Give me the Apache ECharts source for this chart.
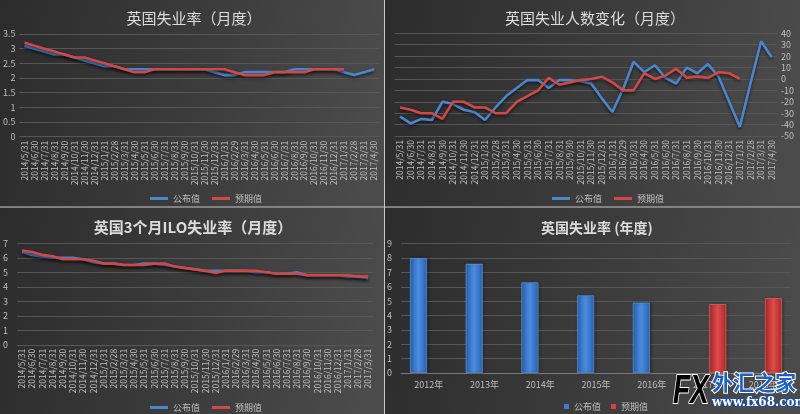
<!DOCTYPE html>
<html>
<head>
<meta charset="utf-8">
<script src="https://cdn.jsdelivr.net/npm/echarts@6/dist/echarts.min.js"></script>
<style>
html,body{margin:0;padding:0;background:#3a3a3a;}
#c{width:800px;height:414px;}
</style>
</head>
<body>
<div id="c"></div>
<script>
// ---- Data ----
const monthLabels = ['2014/5/31','2014/6/30','2014/7/31','2014/8/31','2014/9/30','2014/10/31','2014/11/30','2014/12/31',
  '2015/1/31','2015/2/28','2015/3/31','2015/4/30','2015/5/31','2015/6/30','2015/7/31','2015/8/31','2015/9/30','2015/10/31','2015/11/30','2015/12/31',
  '2016/1/31','2016/2/29','2016/3/31','2016/4/30','2016/5/31','2016/6/30','2016/7/31','2016/8/31','2016/9/30','2016/10/31','2016/11/30','2016/12/31',
  '2017/1/31','2017/2/28','2017/3/31','2017/4/30'];
const iloMonthLabels = monthLabels.slice(0, 35);

// 英国失业率（月度）
const rateActual   = [3.1,3.0,2.9,2.8,2.8,2.7,2.6,2.5,2.4,2.4,2.3,2.3,2.3,2.3,2.3,2.3,2.3,2.3,2.3,2.2,2.1,2.1,2.2,2.2,2.2,2.2,2.2,2.3,2.3,2.3,2.3,2.3,2.2,2.1,2.2,2.3];
const rateForecast = [3.2,3.1,3.0,2.9,2.8,2.7,2.7,2.6,2.5,2.4,2.3,2.2,2.2,2.3,2.3,2.3,2.3,2.3,2.3,2.3,2.3,2.2,2.1,2.1,2.1,2.2,2.2,2.2,2.2,2.3,2.3,2.3,2.3];

// 英国失业人数变化（月度）
const claimActual   = [-33,-39,-35,-36,-20,-22,-27,-29,-36,-25,-15,-8,-1,-1,-8,-1,-1,-2,-4,-17,-29,-9,15,6,12,1,-4,10,5,13,2,-20,-42,-4,33,19];
const claimForecast = [-25,-27,-30,-30,-35,-20,-20,-25,-25,-30,-30,-20,-15,-10,1,-5,-3,-1,0,2,-3,-10,-10,5,0,3,9,1,2,1,6,5,0];

// 英国3个月ILO失业率（月度）
const iloActual   = [6.4,6.2,6.1,6.0,6.0,6.0,5.9,5.7,5.6,5.6,5.5,5.5,5.6,5.6,5.5,5.4,5.3,5.2,5.1,5.1,5.1,5.1,5.1,5.0,5.0,4.9,4.9,5.0,4.8,4.8,4.8,4.8,4.7,4.7,4.6];
const iloForecast = [6.5,6.4,6.2,6.1,5.9,5.9,5.9,5.8,5.6,5.6,5.5,5.5,5.5,5.6,5.6,5.4,5.3,5.2,5.1,4.95,5.1,5.1,5.1,5.1,5.0,4.9,4.9,4.9,4.8,4.8,4.8,4.8,4.8,4.7,4.7];

// 英国失业率 (年度)
const years = ['2012年','2013年','2014年','2015年','2016年','2017年','2018年'];
const annualActual   = [8.0,7.6,6.3,5.4,4.9,null,null];
const annualForecast = [null,null,null,null,null,4.8,5.2];

// ---- Styles ----
const FONT = '"Noto Sans CJK SC", "Noto Sans", sans-serif';
const BLUE = '#4a86cf';
const RED = '#d04848';
const LBL = '#bfbfbf';
const GRIDC = '#575757';

function bg(x, y, w, h) {
  return {type:'rect', silent:true, z:-10, shape:{x:x,y:y,width:w,height:h},
    style:{fill:{type:'linear',x:0,y:0,x2:1,y2:0.3,colorStops:[{offset:0,color:'#2c2c2c'},{offset:0.55,color:'#3c3c3c'},{offset:1,color:'#4b4b4b'}]}}};
}
function lineSeries(name, data, xi, color) {
  return {type:'line', name:name, data:data, xAxisIndex:xi, yAxisIndex:xi, symbol:'none', smooth:false,
    lineStyle:{color:color, width:2.6, shadowColor:'rgba(0,0,0,0.55)', shadowBlur:3, shadowOffsetY:2},
    itemStyle:{color:color}, z:3};
}
function catAxis(gi, data) {
  return {type:'category', gridIndex:gi, data:data, boundaryGap:true,
    axisLine:{show:false, onZero:false}, axisTick:{show:false},
    axisLabel:{interval:0, rotate:90, fontSize:8.5, color:LBL, margin:4, fontFamily:FONT}};
}
function valAxis(gi, min, max, interval, pos, margin) {
  return {type:'value', gridIndex:gi, min:min, max:max, interval:interval, position:pos,
    axisLine:{show:false}, axisTick:{show:false},
    axisLabel:{fontSize:9, color:LBL, margin:margin, fontFamily:FONT},
    splitLine:{lineStyle:{color:GRIDC, width:1}}};
}
function legend(left, top, isBar) {
  const d = isBar
    ? [{name:'公布值', icon:'rect', itemStyle:{color:'#3a7ad6'}}, {name:'预期值', icon:'rect', itemStyle:{color:'#d64040'}}]
    : [{name:'公布值', icon:'rect', itemStyle:{color:BLUE}}, {name:'预期值', icon:'rect', itemStyle:{color:RED}}];
  return {left:left, top:top, itemWidth:isBar?5:18, itemHeight:isBar?5:3, itemGap:isBar?10:12,
    textStyle:{color:LBL, fontSize:9, fontFamily:FONT}, data:d, selectedMode:false};
}
function barGrad(c1, c2) {
  return {type:'linear',x:0,y:0,x2:1,y2:0,colorStops:[{offset:0,color:c1},{offset:0.5,color:c2},{offset:1,color:c1}]};
}

const chart = echarts.init(document.getElementById('c'), null, {renderer:'canvas'});
const option = {
  backgroundColor:'#3a3a3a',
  animation:false,
  title:[
    {text:'英国失业率（月度）', left:189, top:6, textAlign:'center', textStyle:{color:'#dcdcdc', fontSize:15, fontWeight:'normal', fontFamily:FONT}},
    {text:'英国失业人数变化（月度）', left:590, top:6, textAlign:'center', textStyle:{color:'#dcdcdc', fontSize:15, fontWeight:'normal', fontFamily:FONT}},
    {text:'英国3个月ILO失业率（月度）', left:188, top:215, textAlign:'center', textStyle:{color:'#dcdcdc', fontSize:15, fontWeight:'bold', fontFamily:FONT}},
    {text:'英国失业率 (年度)', left:592, top:216, textAlign:'center', textStyle:{color:'#dcdcdc', fontSize:14, fontWeight:'bold', fontFamily:FONT}}
  ],
  legend:[legend(145,189,false), legend(547,189,false), legend(145,398,false), legend(559,397,true)],
  grid:[
    {left:16.6, top:34, width:362.6, height:102.7},
    {left:394.7, top:33.3, width:382.3, height:102.7},
    {left:15.6, top:243.3, width:357.7, height:101.5},
    {left:401, top:243.7, width:390, height:129.3}
  ],
  xAxis:[
    catAxis(0, monthLabels),
    catAxis(1, monthLabels),
    catAxis(2, iloMonthLabels),
    {type:'category', gridIndex:3, data:years, boundaryGap:true,
      axisLine:{show:true, onZero:false, lineStyle:{color:'#7a7a7a'}}, axisTick:{show:false},
      axisLabel:{interval:0, fontSize:9, color:LBL, margin:7, fontFamily:FONT}}
  ],
  yAxis:[
    valAxis(0, 0, 3.5, 0.5, 'left', 4),
    valAxis(1, -50, 40, 10, 'right', 4),
    valAxis(2, 0, 7, 1, 'left', 9),
    valAxis(3, 0, 9, 1, 'left', 9)
  ],
  series:[
    lineSeries('公布值', rateActual, 0, BLUE),
    lineSeries('预期值', rateForecast, 0, RED),
    lineSeries('公布值', claimActual, 1, BLUE),
    lineSeries('预期值', claimForecast, 1, RED),
    lineSeries('公布值', iloActual, 2, BLUE),
    lineSeries('预期值', iloForecast, 2, RED),
    {type:'bar', name:'公布值', data:annualActual, xAxisIndex:3, yAxisIndex:3, barWidth:17, barGap:'22%',
      itemStyle:{color:barGrad('#2c62b0','#4a8ce0'), borderColor:'#6aa6ee', borderWidth:0.6,
        shadowColor:'rgba(0,0,0,0.4)', shadowBlur:3, shadowOffsetX:1}},
    {type:'bar', name:'预期值', data:annualForecast, xAxisIndex:3, yAxisIndex:3, barWidth:17, barGap:'22%',
      itemStyle:{color:barGrad('#a82a2a','#e04a48'), borderColor:'#ee7a78', borderWidth:0.6,
        shadowColor:'rgba(0,0,0,0.4)', shadowBlur:3, shadowOffsetX:1}}
  ],
  graphic:[
    bg(0,0,384,207), bg(385,0,415,207), bg(0,208,384,206), bg(385,208,415,206),
    {type:'line', silent:true, z:5, shape:{x1:384.5,y1:0,x2:384.5,y2:414}, style:{stroke:'#c8c8c8', lineWidth:1}},
    {type:'line', silent:true, z:5, shape:{x1:0,y1:207,x2:800,y2:207}, style:{stroke:'#c8c8c8', lineWidth:1}},
    {type:'text', z:50, x:673, y:372, scaleX:0.7, style:{text:'FX', font:'italic bold 40px "Liberation Sans", sans-serif',
      fill:{type:'linear',x:0,y:0,x2:0,y2:1,colorStops:[{offset:0,color:'#6fb0f5'},{offset:1,color:'#1d5fc4'}]}, stroke:'#ffffff', lineWidth:2}},
    {type:'text', z:50, x:712, y:372, style:{text:'外汇之家', font:'bold 21px "Noto Sans CJK SC", sans-serif', fill:'#1d5fc4', stroke:'#ffffff', lineWidth:2}},
    {type:'text', z:50, x:712, y:397, style:{text:'www.fx68.com', font:'bold 12px "DejaVu Serif", serif', fill:'#ffffff', stroke:'#1d4fa4', lineWidth:2}}
  ]
};
chart.setOption(option);
</script>
</body>
</html>
